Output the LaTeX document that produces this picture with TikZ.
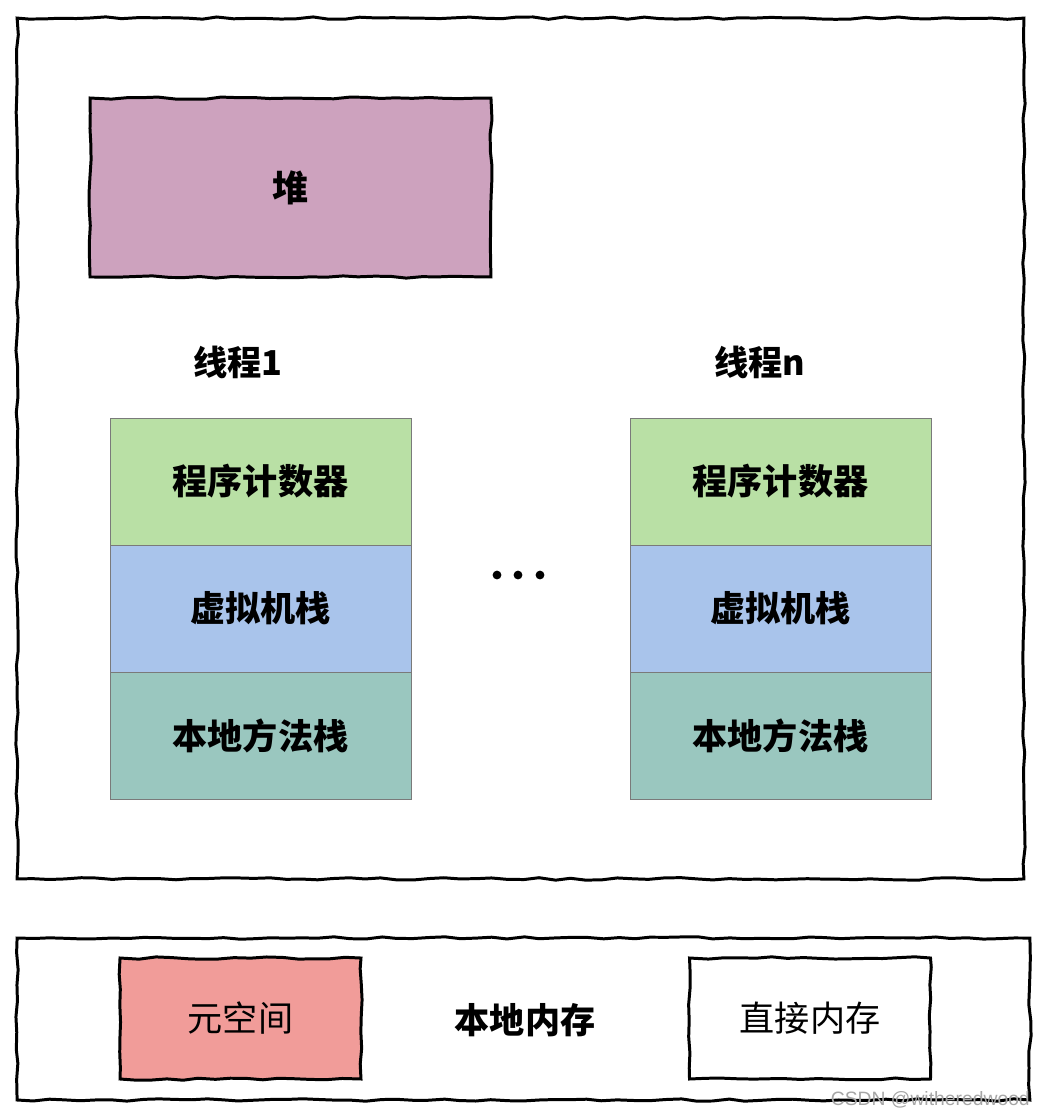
\documentclass[tikz,border=0pt]{standalone}
\usepackage{fontspec}
\setmainfont{Noto Sans CJK SC}
\newfontfamily\wmfont{Liberation Sans}
\usepackage{xcolor}
\usepackage{tikz}
\usetikzlibrary{positioning,decorations.pathmorphing}
\definecolor{heapfill}{HTML}{CDA2BE}
\definecolor{pcfill}{HTML}{B9E0A5}
\definecolor{vmfill}{HTML}{A9C4EB}
\definecolor{nativefill}{HTML}{9AC7BF}
\definecolor{metafill}{HTML}{F19C99}
\definecolor{rowline}{HTML}{7A7A7A}
\pgfmathsetseed{7}

\begin{document}
\begin{tikzpicture}[x=0.02cm, y=-0.02cm,
    sketchy/.style={draw=black, line width=1.7pt, decorate, decoration={random steps, segment length=9pt, amplitude=0.7pt}, inner sep=0pt},
    heapbox/.style={sketchy, fill=heapfill, minimum width=8.02cm, minimum height=3.58cm, font=\bfseries\fontsize{20.5}{24}\selectfont},
    row/.style={draw=rowline, line width=0.5pt, minimum width=6.02cm, minimum height=2.54cm, inner sep=0pt, font=\bfseries\fontsize{20}{24}\selectfont},
    pcrow/.style={row, fill=pcfill},
    vmrow/.style={row, fill=vmfill},
    nativerow/.style={row, fill=nativefill},
    membox/.style={sketchy, minimum width=4.82cm, minimum height=2.42cm, font=\fontsize{20}{24}\selectfont},
    title/.style={font=\bfseries\fontsize{19.5}{23}\selectfont},
    dot/.style={circle, fill=black, inner sep=0pt, minimum size=5pt}
]
\useasboundingbox (0,0) rectangle (1049,1116);
% runtime data area
\node[sketchy, minimum width=20.14cm, minimum height=17.22cm] (jvm) at (520.5,448.5) {};
\node[heapbox] (heap) at (290.5,187.5) {\raisebox{-2pt}{堆}};
\node[title] (t1) at (238,362) {线程1};
\node[title] (tn) at (760,362) {线程n};
\node[pcrow]     (pc1)  at (260.5,481.5) {程序计数器};
\node[vmrow]     (vm1)  at (260.5,608.5) {虚拟机栈};
\node[nativerow] (nat1) at (260.5,735.5) {本地方法栈};
\node[pcrow]     (pcn)  at (780.5,481.5) {程序计数器};
\node[vmrow]     (vmn)  at (780.5,608.5) {虚拟机栈};
\node[nativerow] (natn) at (780.5,735.5) {本地方法栈};
\node[dot] (d1) at (497,575) {};
\node[dot] (d2) at (518,575) {};
\node[dot] (d3) at (540,575) {};
% native memory
\node[sketchy, minimum width=20.26cm, minimum height=3.24cm] (native) at (523.5,1019) {};
\node[membox, fill=metafill] (meta) at (240.5,1018.5) {元空间};
\node[font=\bfseries\fontsize{20}{24}\selectfont] (local) at (525,1020) {本地内存};
\node[membox, fill=white] (direct) at (810,1018.5) {直接内存};
\node[font=\wmfont\fontsize{11}{13}\selectfont, text=black!35, anchor=east] (wm) at (1036,1100) {CSDN @witheredwood};
\end{tikzpicture}
\end{document}
